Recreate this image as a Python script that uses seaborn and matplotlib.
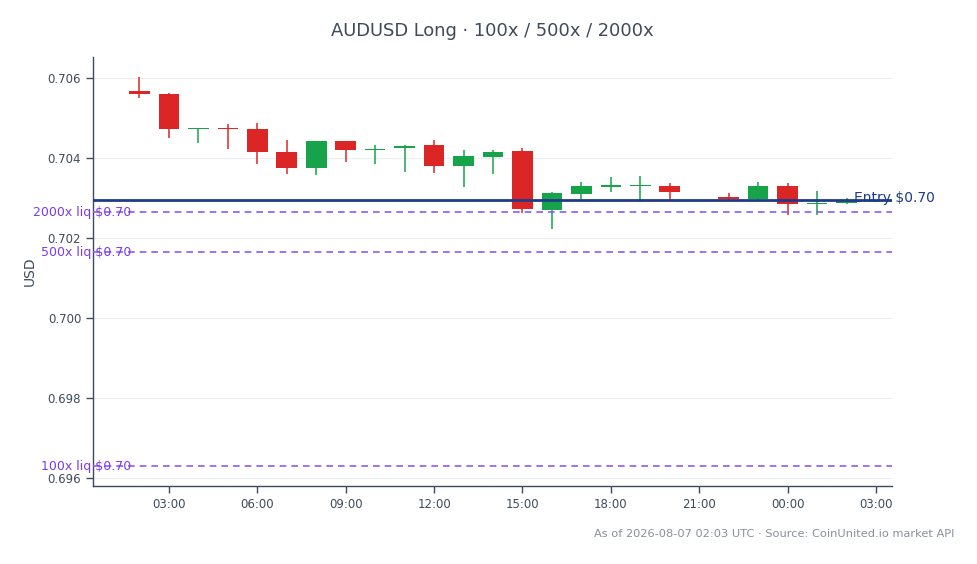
import numpy as np
import pandas as pd
import matplotlib
matplotlib.use('Agg')
import matplotlib.pyplot as plt
import matplotlib.dates as mdates
import seaborn as sns

# Часовые свечи AUDUSD (2026-08-06 02:00 .. 2026-08-07 02:00, 21:00 нет)
times = ['2026-08-06 02:00', '2026-08-06 03:00', '2026-08-06 04:00', '2026-08-06 05:00',
         '2026-08-06 06:00', '2026-08-06 07:00', '2026-08-06 08:00', '2026-08-06 09:00',
         '2026-08-06 10:00', '2026-08-06 11:00', '2026-08-06 12:00', '2026-08-06 13:00',
         '2026-08-06 14:00', '2026-08-06 15:00', '2026-08-06 16:00', '2026-08-06 17:00',
         '2026-08-06 18:00', '2026-08-06 19:00', '2026-08-06 20:00', '2026-08-06 22:00',
         '2026-08-06 23:00', '2026-08-07 00:00', '2026-08-07 01:00', '2026-08-07 02:00']
opens = [0.70568, 0.70560, 0.70472, 0.70475, 0.70472, 0.70415, 0.70376, 0.70443,
         0.70419, 0.70424, 0.70433, 0.70381, 0.70403, 0.70418, 0.70271, 0.70311,
         0.70328, 0.70330, 0.70330, 0.70303, 0.70297, 0.70331, 0.70284, 0.70288]
highs = [0.70603, 0.70562, 0.70476, 0.70485, 0.70488, 0.70445, 0.70443, 0.70443,
         0.70433, 0.70432, 0.70445, 0.70420, 0.70420, 0.70424, 0.70314, 0.70341,
         0.70353, 0.70356, 0.70338, 0.70313, 0.70340, 0.70338, 0.70318, 0.70299]
lows = [0.70549, 0.70451, 0.70437, 0.70423, 0.70386, 0.70361, 0.70358, 0.70391,
        0.70386, 0.70366, 0.70362, 0.70328, 0.70360, 0.70263, 0.70223, 0.70297,
        0.70316, 0.70291, 0.70295, 0.70296, 0.70296, 0.70257, 0.70257, 0.70284]
closes = [0.70559, 0.70472, 0.70475, 0.70472, 0.70414, 0.70376, 0.70443, 0.70419,
          0.70422, 0.70431, 0.70381, 0.70405, 0.70415, 0.70273, 0.70313, 0.70330,
          0.70333, 0.70332, 0.70314, 0.70297, 0.70331, 0.70284, 0.70288, 0.70293]

entry_price = 0.70295
liq_labels = ['2000x liq $0.70', '500x liq $0.70', '100x liq $0.70']
liq_prices = [0.70265, 0.70165, 0.69630]

title = 'AUDUSD Long · 100x / 500x / 2000x'
footer = 'As of 2026-08-07 02:03 UTC · Source: CoinUnited.io market API'

UP = '#16a34a'
DOWN = '#dc2626'
ENTRY = '#1e3a8a'
LIQ = '#8b5cf6'
TEXT = '#3f4a5a'


def main():
    sns.set_theme(style='white')
    plt.rcParams['font.family'] = ['DejaVu Sans']

    df = pd.DataFrame({'time': pd.to_datetime(times), 'open': opens, 'high': highs,
                       'low': lows, 'close': closes})
    df['up'] = df['close'] >= df['open']
    df['x'] = mdates.date2num(df['time'])

    fig = plt.figure(figsize=(9.78, 5.64), dpi=100)
    ax = fig.add_axes([0.0951, 0.138, 0.8170, 0.761])

    ax.grid(True, axis='y', color='#ebedf0', linewidth=0.8)
    ax.set_axisbelow(True)

    # свечи: фитиль + тело
    width = 0.7 / 24
    for _, r in df.iterrows():
        c = UP if r['up'] else DOWN
        ax.vlines(r['x'], r['low'], r['high'], color=c, linewidth=1.1, zorder=2)
        lo = min(r['open'], r['close'])
        h = max(abs(r['close'] - r['open']), 0.000025)
        ax.bar(r['x'], h, width=width, bottom=lo, color=c, linewidth=0, zorder=3)

    # линия входа и уровни ликвидации
    ax.axhline(entry_price, color=ENTRY, linewidth=2, zorder=4)
    x_right = mdates.date2num(pd.Timestamp('2026-08-07 02:00')) + 0.27 / 24
    ax.text(x_right, entry_price + 0.00005, 'Entry $0.70', ha='left', va='center',
            color=ENTRY, fontsize=10, zorder=5, clip_on=False)

    for lab, p in zip(liq_labels, liq_prices):
        ax.axhline(p, color=LIQ, linewidth=1.2, linestyle=(0, (4, 3)), zorder=4)
        ax.text(0.048, p, lab, transform=ax.get_yaxis_transform(), ha='right',
                va='center', color='#7c3aed', fontsize=9, zorder=5, clip_on=False)

    x0 = mdates.date2num(pd.Timestamp('2026-08-06 02:00'))
    ax.set_xlim(x0 - 1.578 / 24, x0 + 25.545 / 24)
    ax.set_ylim(0.695800, 0.706525)

    ax.xaxis.set_major_locator(mdates.HourLocator(byhour=range(0, 24, 3)))
    ax.xaxis.set_major_formatter(mdates.DateFormatter('%H:%M'))
    ax.set_yticks([0.696, 0.698, 0.700, 0.702, 0.704, 0.706])
    ax.yaxis.set_major_formatter(matplotlib.ticker.FormatStrFormatter('%.3f'))
    ax.tick_params(axis='both', labelsize=8.5, colors=TEXT, length=5, width=1,
                   left=True, bottom=True, direction='out')
    ax.set_ylabel('USD', fontsize=10, color=TEXT, labelpad=8)

    sns.despine(ax=ax)
    for s in ('left', 'bottom'):
        ax.spines[s].set_color('#3c4a5e')
        ax.spines[s].set_linewidth(1)

    fig.text(0.503, 0.945, title, ha='center', va='center', fontsize=12.9, color=TEXT)
    fig.text(0.976, 0.053, footer, ha='right', va='center', fontsize=8.2, color='#8a8f99')

    fig.savefig('out.png', dpi=100)
    plt.close('all')


if __name__ == '__main__':
    main()
